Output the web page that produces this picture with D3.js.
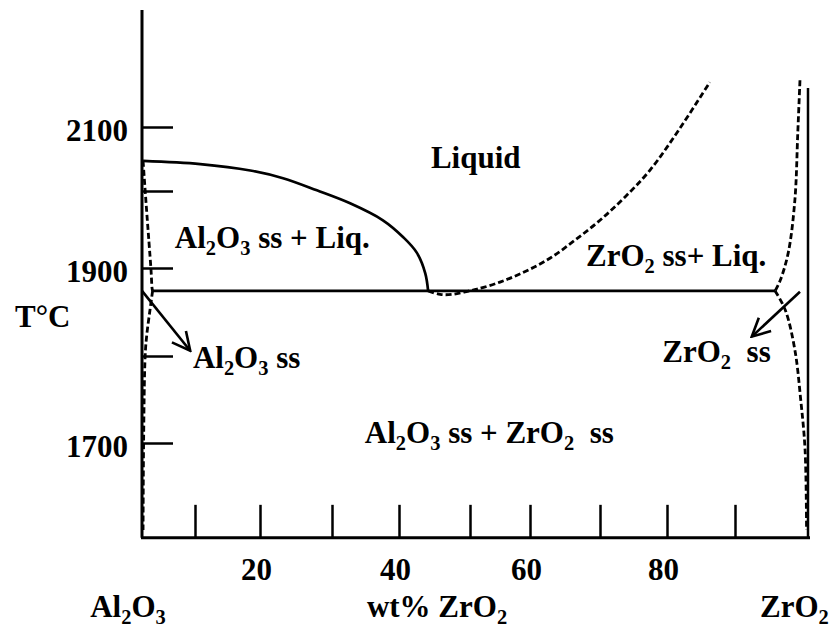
<!DOCTYPE html>
<html><head><meta charset="utf-8">
<script src="https://cdn.jsdelivr.net/npm/d3@7"></script>
<style>body{margin:0;background:#fff} svg{display:block}</style>
</head><body>
<svg id="c" width="832" height="636"></svg>
<script>
// ---------- data ----------
const xTicks = [10, 20, 30, 40, 50, 60, 70, 80, 90];
const xTickLabels = [20, 40, 60, 80];
const yTicks = [1700, 1800, 1900, 2000, 2100];
const yTickLabels = [1700, 1900, 2100];
const tTop = 2283, tBottom = 1591, tRightTop = 2161;
const eutecticT = 1874;
const eutecticRange = [2.0, 95.5];
const al2o3Liquidus = [[0.2,2047],[10.8,2042],[18.5,2032],[23.2,2020],[27.9,2001],[32.7,1984],[37.6,1962],[40.6,1940],[42.5,1920],[43.7,1894],[44.1,1874]];
const zro2LiquidusLeft = [[44.1,1874],[45.8,1870],[47.5,1870],[49.3,1873],[51.2,1876],[55,1884],[59.2,1896],[62.9,1913],[66.4,1936],[70,1962],[73.7,1992],[77.5,2033],[81.9,2098],[86.3,2170]];
const zro2LiquidusRight = [[98.9,2173],[98.6,2091],[98.2,1988],[97.3,1920],[96.2,1886],[95.5,1874]];
const zro2Solvus = [[95.5,1874],[96.9,1852],[98.2,1807],[99.0,1750],[99.6,1692],[99.8,1600]];
const al2o3SolvusUpper = [[0.2,2047],[0.75,1986],[1.3,1935],[1.7,1898],[1.9,1877],[2.0,1874]];
const al2o3SolvusLower = [[2.0,1874],[1.5,1852],[0.9,1824],[0.6,1801],[0.3,1700],[0.2,1600]];
const arrows = [
  {from:[0,1874], to:[9.1,1806]},
  {from:[98.9,1873], to:[92.3,1822]}
];
const regionLabels = [
  {t:"Liquid", x:44.5, T:2036},
  {t:"Al_2O_3 ss + Liq.", x:6.2, T:1926},
  {t:"ZrO_2 ss+ Liq.", x:68, T:1903},
  {t:"Al_2O_3 ss", x:9.6, T:1786},
  {t:"ZrO_2  ss", x:79.3, T:1793},
  {t:"Al_2O_3 ss + ZrO_2  ss", x:34.9, T:1700}
];

// ---------- drawing ----------
const svg = d3.select("#c");
const FONT = "'Liberation Serif','Times New Roman',serif";
const FS = 31;

const x = d3.scaleLinear()
  .domain([0,10,20,30,40,50,60,70,80,90,100])
  .range([142,195,260,332,399,470,530,600,667,735,808]);
const y = d3.scaleLinear()
  .domain([1700,1800,1900,2000,2100])
  .range([443,356,268,191,127]);

function richText(sel, str) {
  const parts = str.split(/(_\d)/).filter(s => s.length);
  let sub = false;
  parts.forEach(p => {
    if (p[0] === "_") {
      sel.append("tspan").text(p.slice(1)).attr("font-size", FS*0.66).attr("dy", 7);
      sub = true;
    } else {
      const ts = sel.append("tspan").text(p);
      if (sub) { ts.attr("dy", -7); sub = false; }
    }
  });
  sel.attr("xml:space","preserve").style("white-space","pre");
}

// axes lines
const g = svg.append("g");
g.append("line").attr("x1", x(0)).attr("x2", x(0)).attr("y1", y(tTop)).attr("y2", y(tBottom))
  .attr("stroke","#000").attr("stroke-width",3);
g.append("line").attr("x1", x(0)-1).attr("x2", x(100)+2).attr("y1", y(tBottom)).attr("y2", y(tBottom))
  .attr("stroke","#000").attr("stroke-width",3);
g.append("line").attr("x1", x(100)).attr("x2", x(100)).attr("y1", y(tRightTop)).attr("y2", y(tBottom))
  .attr("stroke","#000").attr("stroke-width",2.5);

// y axis ticks
const yAxis = d3.axisLeft(y).tickValues(yTicks).tickSizeInner(-31).tickSizeOuter(0).tickPadding(14)
  .tickFormat(d => yTickLabels.includes(d) ? d : "");
const gy = svg.append("g").attr("transform", `translate(${x(0)},0)`).call(yAxis);
gy.select(".domain").remove();
gy.selectAll(".tick line").attr("stroke","#000").attr("stroke-width",2.5);
gy.selectAll(".tick text").attr("font-family",FONT).attr("font-weight","bold").attr("font-size",FS)
  .attr("fill","#000").attr("dy","0.42em");

// x axis ticks
const xAxis = d3.axisBottom(x).tickValues(xTicks).tickSizeInner(-33).tickSizeOuter(0).tickPadding(20)
  .tickFormat(d => xTickLabels.includes(d) ? d : "");
const gx = svg.append("g").attr("transform", `translate(0,${y(tBottom)})`).call(xAxis);
gx.select(".domain").remove();
gx.selectAll(".tick line").attr("stroke","#000").attr("stroke-width",2.5);
gx.selectAll(".tick text").attr("font-family",FONT).attr("font-weight","bold").attr("font-size",FS)
  .attr("fill","#000").attr("dx",-4);

// curves
const line = d3.line().x(d => x(d[0])).y(d => y(d[1])).curve(d3.curveCatmullRom.alpha(0.5));
svg.append("path").attr("d", line(al2o3Liquidus)).attr("fill","none").attr("stroke","#000").attr("stroke-width",2.7);
svg.append("line").attr("x1", x(eutecticRange[0])).attr("x2", x(eutecticRange[1]))
  .attr("y1", y(eutecticT)).attr("y2", y(eutecticT)).attr("stroke","#000").attr("stroke-width",2.7);

const dashed = [zro2LiquidusLeft, zro2LiquidusRight, zro2Solvus, al2o3SolvusUpper, al2o3SolvusLower];
dashed.forEach(s => {
  svg.append("path").attr("d", line(s)).attr("fill","none").attr("stroke","#000")
    .attr("stroke-width",2.8).attr("stroke-dasharray","6,3");
});

// arrows
svg.append("defs").append("marker").attr("id","ah").attr("markerUnits","userSpaceOnUse")
  .attr("viewBox","0 0 22 22").attr("refX",20).attr("refY",11)
  .attr("markerWidth",22).attr("markerHeight",22).attr("orient","auto")
  .append("path").attr("d","M2,2 L20,11 L2,20").attr("fill","none").attr("stroke","#000").attr("stroke-width",2.6);
arrows.forEach(a => {
  svg.append("line").attr("x1", x(a.from[0])).attr("y1", y(a.from[1]))
    .attr("x2", x(a.to[0])).attr("y2", y(a.to[1]))
    .attr("stroke","#000").attr("stroke-width",2.6).attr("marker-end","url(#ah)");
});

// region labels
regionLabels.forEach(l => {
  const t = svg.append("text").attr("x", x(l.x)).attr("y", y(l.T))
    .attr("font-family",FONT).attr("font-weight","bold").attr("font-size",FS).attr("fill","#000");
  richText(t, l.t);
});

// axis titles
function title(str, px, py, anchor) {
  const t = svg.append("text").attr("x", px).attr("y", py).attr("text-anchor", anchor)
    .attr("font-family",FONT).attr("font-weight","bold").attr("font-size",FS).attr("fill","#000");
  richText(t, str);
}
title("T°C", 15, 327, "start");
title("Al_2O_3", 128, 617, "middle");
title("wt% ZrO_2", 437, 617, "middle");
title("ZrO_2", 760, 617, "start");
</script>
</body></html>
